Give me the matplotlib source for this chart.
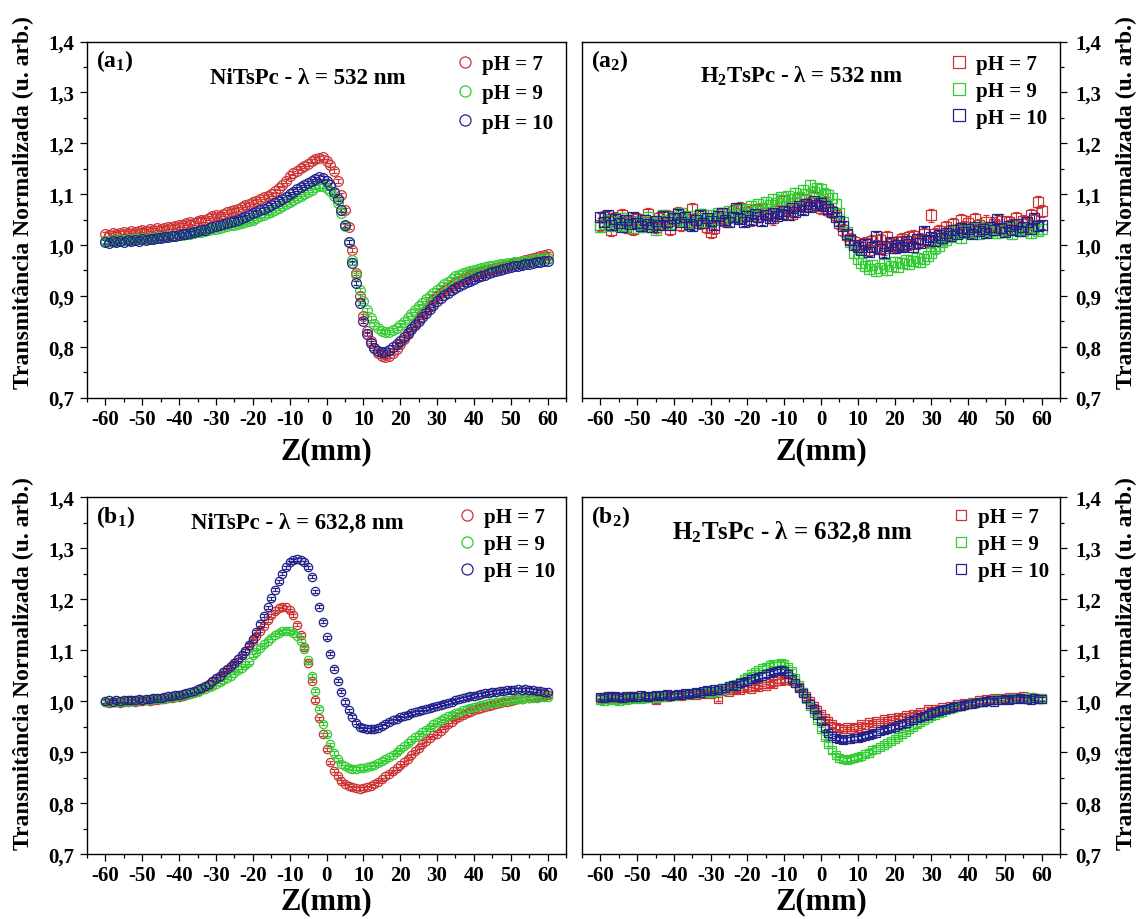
import numpy as np
import matplotlib
matplotlib.use("Agg")
import matplotlib.pyplot as plt
from matplotlib.lines import Line2D
from matplotlib.ticker import MultipleLocator, FuncFormatter

plt.rcParams["font.family"] = ["Liberation Serif", "DejaVu Serif"]
plt.rcParams["font.weight"] = "bold"
plt.rcParams["mathtext.fontset"] = "custom"
plt.rcParams["mathtext.rm"] = "Liberation Serif:bold"
plt.rcParams["mathtext.it"] = "Liberation Serif:bold"
plt.rcParams["mathtext.bf"] = "Liberation Serif:bold"
plt.rcParams["axes.unicode_minus"] = False

# Z positions (mm), 1 mm step
z = np.arange(-60, 61)
ph_labels = ["pH = 7", "pH = 9", "pH = 10"]
colors = ["#cc3333", "#33cc33", "#22228c"]

# (a1) NiTsPc - 532 nm
a1_ph7 = [1.022, 1.020, 1.023, 1.021, 1.024, 1.026, 1.023, 1.027, 1.025, 1.028,
          1.030, 1.027, 1.031, 1.029, 1.033, 1.031, 1.034, 1.036, 1.035, 1.038,
          1.040, 1.039, 1.043, 1.045, 1.044, 1.048, 1.050, 1.049, 1.053, 1.056,
          1.058, 1.057, 1.061, 1.064, 1.066, 1.069, 1.071, 1.075, 1.078, 1.081,
          1.084, 1.087, 1.090, 1.094, 1.097, 1.101, 1.106, 1.112, 1.118, 1.126,
          1.135, 1.141, 1.146, 1.151, 1.156, 1.160, 1.165, 1.168, 1.171, 1.173,
          1.165, 1.158, 1.145, 1.125, 1.098, 1.068, 1.035, 0.990, 0.945, 0.900,
          0.860, 0.830, 0.812, 0.797, 0.787, 0.781, 0.779, 0.782, 0.788, 0.796,
          0.805, 0.815, 0.825, 0.835, 0.845, 0.855, 0.864, 0.873, 0.882, 0.891,
          0.899, 0.905, 0.910, 0.915, 0.920, 0.925, 0.929, 0.933, 0.936, 0.940,
          0.943, 0.945, 0.947, 0.949, 0.951, 0.953, 0.955, 0.957, 0.959, 0.961,
          0.963, 0.965, 0.967, 0.969, 0.971, 0.973, 0.975, 0.977, 0.979, 0.981, 0.982]
a1_ph9 = [1.008, 1.007, 1.009, 1.008, 1.010, 1.009, 1.011, 1.010, 1.012, 1.011,
          1.013, 1.012, 1.014, 1.014, 1.015, 1.016, 1.016, 1.017, 1.018, 1.018,
          1.019, 1.020, 1.021, 1.022, 1.024, 1.025, 1.026, 1.028, 1.029, 1.031,
          1.032, 1.034, 1.035, 1.037, 1.039, 1.040, 1.042, 1.044, 1.046, 1.048,
          1.050, 1.053, 1.056, 1.059, 1.062, 1.065, 1.069, 1.072, 1.076, 1.080,
          1.084, 1.088, 1.092, 1.096, 1.100, 1.104, 1.108, 1.113, 1.116, 1.115,
          1.112, 1.106, 1.096, 1.082, 1.062, 1.038, 1.005, 0.970, 0.940, 0.912,
          0.890, 0.872, 0.857, 0.845, 0.836, 0.830, 0.828, 0.829, 0.832, 0.836,
          0.842, 0.849, 0.857, 0.865, 0.872, 0.879, 0.886, 0.893, 0.900, 0.906,
          0.912, 0.918, 0.923, 0.928, 0.933, 0.938, 0.941, 0.944, 0.946, 0.948,
          0.950, 0.952, 0.954, 0.956, 0.958, 0.959, 0.961, 0.962, 0.963, 0.964,
          0.965, 0.966, 0.967, 0.968, 0.969, 0.970, 0.971, 0.972, 0.973, 0.974, 0.975]
a1_ph10 = [1.006, 1.004, 1.007, 1.005, 1.008, 1.006, 1.009, 1.007, 1.010, 1.008,
           1.011, 1.010, 1.012, 1.011, 1.014, 1.013, 1.015, 1.016, 1.017, 1.018,
           1.019, 1.021, 1.022, 1.024, 1.025, 1.027, 1.029, 1.030, 1.033, 1.035,
           1.037, 1.039, 1.041, 1.043, 1.046, 1.048, 1.050, 1.053, 1.055, 1.058,
           1.062, 1.065, 1.068, 1.071, 1.074, 1.078, 1.082, 1.086, 1.090, 1.095,
           1.100, 1.105, 1.110, 1.114, 1.118, 1.122, 1.126, 1.130, 1.133, 1.132,
           1.125, 1.117, 1.105, 1.090, 1.068, 1.040, 1.005, 0.965, 0.925, 0.885,
           0.850, 0.825, 0.808, 0.797, 0.791, 0.789, 0.790, 0.794, 0.799, 0.805,
           0.811, 0.818, 0.826, 0.834, 0.842, 0.850, 0.858, 0.866, 0.874, 0.882,
           0.889, 0.895, 0.901, 0.906, 0.911, 0.915, 0.919, 0.923, 0.927, 0.930,
           0.933, 0.936, 0.939, 0.941, 0.944, 0.946, 0.948, 0.950, 0.952, 0.954,
           0.956, 0.958, 0.959, 0.961, 0.962, 0.963, 0.965, 0.966, 0.967, 0.968, 0.969]

# (a2) H2TsPc - 532 nm
a2_ph7 = [1.040, 1.055, 1.048, 1.030, 1.052, 1.045, 1.058, 1.036, 1.047, 1.032,
          1.051, 1.038, 1.046, 1.060, 1.042, 1.035, 1.053, 1.044, 1.057, 1.031,
          1.049, 1.062, 1.040, 1.055, 1.046, 1.070, 1.050, 1.043, 1.058, 1.036,
          1.025, 1.033, 1.052, 1.061, 1.047, 1.055, 1.066, 1.060, 1.072, 1.058,
          1.064, 1.050, 1.068, 1.057, 1.071, 1.063, 1.059, 1.052, 1.066, 1.087,
          1.075, 1.069, 1.061, 1.082, 1.091, 1.077, 1.088, 1.083, 1.094, 1.079,
          1.072, 1.085, 1.068, 1.064, 1.058, 1.043, 1.030, 1.020, 1.012, 1.005,
          0.998, 0.995, 1.003, 0.990, 1.008, 0.996, 1.010, 0.993, 1.015, 1.002,
          0.998, 1.006, 1.011, 1.000, 1.015, 1.018, 1.004, 1.012, 1.021, 1.008,
          1.058, 1.022, 1.028, 1.014, 1.035, 1.027, 1.041, 1.030, 1.049, 1.036,
          1.044, 1.028, 1.051, 1.039, 1.033, 1.046, 1.029, 1.042, 1.037, 1.048,
          1.031, 1.045, 1.039, 1.052, 1.036, 1.047, 1.041, 1.058, 1.050, 1.084, 1.066]
a2_ph9 = [1.035, 1.042, 1.050, 1.038, 1.045, 1.040, 1.052, 1.037, 1.044, 1.033,
          1.041, 1.048, 1.036, 1.054, 1.043, 1.030, 1.046, 1.058, 1.049, 1.041,
          1.055, 1.047, 1.062, 1.050, 1.044, 1.057, 1.048, 1.060, 1.053, 1.045,
          1.058, 1.051, 1.063, 1.049, 1.056, 1.067, 1.060, 1.054, 1.069, 1.062,
          1.070, 1.076, 1.066, 1.080, 1.073, 1.085, 1.078, 1.090, 1.083, 1.094,
          1.088, 1.097, 1.091, 1.102, 1.095, 1.108, 1.100, 1.117, 1.105, 1.112,
          1.109, 1.101, 1.098, 1.092, 1.080, 1.062, 1.045, 1.025, 1.005, 0.985,
          0.972, 0.965, 0.958, 0.952, 0.960, 0.948, 0.955, 0.962, 0.950, 0.958,
          0.966, 0.957, 0.964, 0.970, 0.962, 0.968, 0.975, 0.966, 0.972, 0.979,
          0.985, 0.993, 0.998, 1.005, 1.010, 1.016, 1.022, 1.028, 1.014, 1.024,
          1.030, 1.026, 1.033, 1.021, 1.029, 1.035, 1.027, 1.032, 1.024, 1.030,
          1.026, 1.033, 1.022, 1.029, 1.035, 1.027, 1.031, 1.024, 1.036, 1.028, 1.032]
a2_ph10 = [1.055, 1.046, 1.058, 1.040, 1.051, 1.043, 1.036, 1.049, 1.041, 1.054,
           1.044, 1.038, 1.050, 1.042, 1.035, 1.048, 1.040, 1.056, 1.045, 1.039,
           1.052, 1.060, 1.046, 1.055, 1.041, 1.037, 1.049, 1.058, 1.044, 1.052,
           1.047, 1.039, 1.056, 1.062, 1.050, 1.045, 1.055, 1.073, 1.051, 1.046,
           1.057, 1.050, 1.061, 1.054, 1.048, 1.059, 1.052, 1.063, 1.056, 1.060,
           1.067, 1.059, 1.072, 1.064, 1.076, 1.069, 1.081, 1.074, 1.086, 1.079,
           1.083, 1.076, 1.070, 1.064, 1.055, 1.048, 1.038, 1.022, 1.010, 1.000,
           0.995, 0.990, 1.002, 0.987, 0.996, 1.018, 0.992, 0.985, 0.998, 1.005,
           0.993, 1.000, 0.996, 1.007, 1.001, 0.995, 1.012, 1.004, 1.028, 1.009,
           1.015, 1.008, 1.020, 1.013, 1.024, 1.017, 1.030, 1.022, 1.034, 1.026,
           1.031, 1.022, 1.035, 1.027, 1.032, 1.024, 1.036, 1.029, 1.051, 1.033,
           1.026, 1.038, 1.030, 1.042, 1.027, 1.035, 1.046, 1.031, 1.052, 1.037, 1.040]

# (b1) NiTsPc - 632,8 nm
b1_ph7 = [0.998, 0.997, 0.999, 0.998, 0.997, 0.999, 0.998, 1.000, 0.999, 1.000,
          1.000, 1.001, 1.000, 1.002, 1.002, 1.003, 1.004, 1.005, 1.006, 1.007,
          1.008, 1.010, 1.012, 1.014, 1.017, 1.020, 1.023, 1.027, 1.032, 1.037,
          1.043, 1.048, 1.054, 1.060, 1.067, 1.074, 1.082, 1.090, 1.099, 1.108,
          1.118, 1.128, 1.138, 1.148, 1.158, 1.168, 1.176, 1.182, 1.185, 1.184,
          1.178, 1.168, 1.150, 1.130, 1.105, 1.075, 1.040, 1.002, 0.966, 0.935,
          0.905, 0.880, 0.863, 0.852, 0.843, 0.838, 0.834, 0.831, 0.829, 0.828,
          0.829, 0.831, 0.834, 0.838, 0.842, 0.847, 0.852, 0.857, 0.862, 0.868,
          0.874, 0.880, 0.887, 0.894, 0.901, 0.908, 0.915, 0.922, 0.928, 0.933,
          0.936, 0.942, 0.948, 0.954, 0.959, 0.964, 0.968, 0.972, 0.976, 0.979,
          0.982, 0.985, 0.987, 0.989, 0.991, 0.993, 0.995, 0.997, 0.998, 0.999,
          1.000, 1.001, 1.003, 1.004, 1.005, 1.006, 1.007, 1.008, 1.009, 1.010, 1.011]
b1_ph9 = [0.999, 0.998, 1.000, 0.999, 0.998, 1.000, 0.999, 1.001, 1.000, 1.001,
          1.001, 1.002, 1.001, 1.003, 1.003, 1.004, 1.005, 1.006, 1.007, 1.008,
          1.009, 1.011, 1.012, 1.014, 1.016, 1.018, 1.021, 1.024, 1.027, 1.030,
          1.034, 1.038, 1.042, 1.046, 1.050, 1.055, 1.060, 1.065, 1.070, 1.076,
          1.090, 1.097, 1.104, 1.111, 1.118, 1.124, 1.130, 1.134, 1.137, 1.138,
          1.137, 1.134, 1.128, 1.118, 1.102, 1.080, 1.050, 1.020, 0.985, 0.955,
          0.935, 0.915, 0.898, 0.886, 0.877, 0.872, 0.869, 0.867, 0.867, 0.868,
          0.868, 0.870, 0.872, 0.875, 0.878, 0.882, 0.886, 0.890, 0.895, 0.900,
          0.905, 0.911, 0.917, 0.923, 0.929, 0.934, 0.939, 0.944, 0.949, 0.954,
          0.958, 0.962, 0.966, 0.970, 0.973, 0.976, 0.979, 0.982, 0.985, 0.987,
          0.989, 0.991, 0.993, 0.995, 0.996, 0.997, 0.998, 0.999, 1.000, 1.001,
          1.002, 1.003, 1.003, 1.004, 1.005, 1.005, 1.006, 1.006, 1.007, 1.007, 1.008]
b1_ph10 = [1.000, 1.001, 0.999, 1.001, 1.000, 1.002, 1.001, 1.002, 1.001, 1.003,
           1.002, 1.004, 1.003, 1.005, 1.006, 1.006, 1.007, 1.009, 1.010, 1.011,
           1.012, 1.014, 1.016, 1.018, 1.020, 1.023, 1.026, 1.029, 1.033, 1.039,
           1.045, 1.050, 1.056, 1.062, 1.068, 1.075, 1.082, 1.090, 1.099, 1.110,
           1.122, 1.136, 1.151, 1.167, 1.184, 1.201, 1.218, 1.235, 1.250, 1.262,
           1.272, 1.276, 1.278, 1.277, 1.272, 1.262, 1.244, 1.215, 1.185, 1.155,
           1.125, 1.093, 1.063, 1.040, 1.018, 0.998, 0.982, 0.969, 0.957, 0.950,
           0.947, 0.945, 0.945, 0.946, 0.948, 0.951, 0.955, 0.959, 0.962, 0.965,
           0.968, 0.971, 0.973, 0.976, 0.978, 0.980, 0.983, 0.985, 0.987, 0.989,
           0.991, 0.993, 0.995, 0.997, 0.999, 1.001, 1.003, 1.005, 1.007, 1.009,
           1.010, 1.012, 1.013, 1.015, 1.016, 1.017, 1.018, 1.019, 1.020, 1.021,
           1.022, 1.022, 1.023, 1.022, 1.023, 1.022, 1.021, 1.020, 1.019, 1.018, 1.017]

# (b2) H2TsPc - 632,8 nm
b2_ph7 = [1.005, 1.008, 1.006, 1.009, 1.005, 1.007, 1.004, 1.008, 1.006, 1.009,
          1.007, 1.005, 1.008, 1.006, 1.009, 1.001, 1.008, 1.010, 1.007, 1.011,
          1.009, 1.012, 1.010, 1.013, 1.011, 1.014, 1.012, 1.015, 1.013, 1.016,
          1.014, 1.017, 1.004, 1.019, 1.021, 1.018, 1.022, 1.024, 1.021, 1.025,
          1.027, 1.024, 1.030, 1.027, 1.033, 1.030, 1.036, 1.033, 1.039, 1.040,
          1.042, 1.041, 1.039, 1.035, 1.028, 1.018, 1.009, 1.000, 0.991, 0.983,
          0.975, 0.967, 0.960, 0.954, 0.950, 0.948, 0.946, 0.949, 0.945, 0.950,
          0.947, 0.955, 0.950, 0.958, 0.953, 0.961, 0.957, 0.964, 0.960, 0.966,
          0.963, 0.969, 0.966, 0.972, 0.969, 0.975, 0.972, 0.978, 0.975, 0.985,
          0.979, 0.984, 0.982, 0.988, 0.985, 0.991, 0.988, 0.994, 0.991, 0.997,
          0.995, 0.999, 0.997, 1.001, 0.999, 1.003, 1.001, 1.005, 1.003, 1.006,
          1.004, 1.007, 1.005, 1.008, 1.006, 1.009, 1.003, 1.007, 1.005, 1.004, 1.003]
b2_ph9 = [1.001, 1.000, 1.003, 1.001, 1.002, 1.000, 1.003, 1.002, 1.004, 1.003,
          1.005, 1.004, 1.006, 1.005, 1.007, 1.006, 1.008, 1.007, 1.009, 1.010,
          1.009, 1.011, 1.012, 1.011, 1.013, 1.014, 1.015, 1.016, 1.017, 1.018,
          1.016, 1.018, 1.020, 1.022, 1.025, 1.028, 1.031, 1.034, 1.038, 1.043,
          1.048, 1.052, 1.056, 1.060, 1.064, 1.067, 1.070, 1.072, 1.073, 1.074,
          1.073, 1.067, 1.058, 1.046, 1.032, 1.018, 1.004, 0.990, 0.976, 0.962,
          0.945, 0.930, 0.915, 0.903, 0.895, 0.889, 0.886, 0.885, 0.886, 0.888,
          0.890, 0.893, 0.896, 0.899, 0.903, 0.906, 0.909, 0.913, 0.917, 0.921,
          0.925, 0.930, 0.935, 0.940, 0.945, 0.950, 0.954, 0.958, 0.962, 0.966,
          0.970, 0.973, 0.976, 0.979, 0.982, 0.985, 0.987, 0.989, 0.991, 0.993,
          0.995, 0.996, 0.997, 0.998, 0.999, 1.000, 1.001, 1.002, 1.003, 1.003,
          1.004, 1.004, 1.005, 1.005, 1.006, 1.006, 1.006, 1.007, 1.006, 1.005, 1.006]
b2_ph10 = [1.008, 1.006, 1.009, 1.007, 1.010, 1.008, 1.006, 1.009, 1.007, 1.010,
           1.008, 1.011, 1.009, 1.007, 1.010, 1.012, 1.009, 1.011, 1.013, 1.010,
           1.012, 1.014, 1.011, 1.015, 1.013, 1.016, 1.018, 1.015, 1.019, 1.021,
           1.020, 1.023, 1.022, 1.026, 1.025, 1.029, 1.031, 1.030, 1.035, 1.038,
           1.040, 1.043, 1.045, 1.047, 1.050, 1.052, 1.055, 1.057, 1.059, 1.060,
           1.058, 1.052, 1.044, 1.035, 1.025, 1.015, 1.005, 0.995, 0.984, 0.972,
           0.960, 0.948, 0.938, 0.931, 0.927, 0.925, 0.924, 0.925, 0.926, 0.927,
           0.928, 0.930, 0.932, 0.934, 0.936, 0.938, 0.941, 0.943, 0.946, 0.948,
           0.949, 0.952, 0.955, 0.957, 0.960, 0.963, 0.966, 0.968, 0.971, 0.973,
           0.976, 0.978, 0.980, 0.982, 0.984, 0.986, 0.988, 0.990, 0.991, 0.993,
           0.994, 0.995, 0.997, 0.998, 0.999, 1.000, 1.001, 0.999, 1.002, 1.001,
           1.003, 1.002, 1.004, 1.003, 1.005, 1.003, 1.004, 1.002, 1.005, 1.003, 1.004]

# error bar half-widths per panel
err_a1 = [0.004, 0.004, 0.004]
err_a2 = [0.012, 0.010, 0.008]
err_b1 = [0.003, 0.003, 0.003]
err_b2 = [0.004, 0.004, 0.004]

YLABEL = "Transmitância Normalizada (u. arb.)"


def comma_fmt(v, pos):
    return f"{v:.1f}".replace(".", ",")


def draw_panel(ax, series, errs, marker, msize, title, tag, title_pos,
               title_size, right=False, leg_ms=8, leg_space=0.33,
               leg_pad=0.3, zlabel_y=-0.15):
    for vals, err, c in zip(series, errs, colors):
        ax.errorbar(z, vals, yerr=err, fmt=marker, ms=msize, mfc="none",
                    mec=c, mew=0.9, ecolor=c, elinewidth=0.7, capsize=2,
                    capthick=0.7)
    ax.set_xlim(-65, 65)
    ax.set_ylim(0.7, 1.4)
    ax.set_xticks(range(-60, 61, 10))
    ax.xaxis.set_minor_locator(MultipleLocator(5))
    ax.yaxis.set_major_locator(MultipleLocator(0.1))
    ax.yaxis.set_minor_locator(MultipleLocator(0.05))
    ax.yaxis.set_major_formatter(FuncFormatter(comma_fmt))
    ax.tick_params(which="both", direction="out", width=0.9, labelsize=15,
                   top=False)
    ax.tick_params(which="major", length=5)
    ax.tick_params(which="minor", length=3)
    ax.tick_params(axis="x", pad=3)
    if right:
        ax.yaxis.tick_right()
        ax.tick_params(axis="y", which="both", left=False, right=True, pad=6)
    else:
        ax.tick_params(axis="y", which="both", right=False, pad=4)
    for sp in ax.spines.values():
        sp.set_linewidth(1.0)

    ax.text(0.5, zlabel_y, "Z(mm)", transform=ax.transAxes, ha="center",
            va="center", fontsize=22)
    ax.text(0.018, 0.948, tag, transform=ax.transAxes, ha="left",
            va="center", fontsize=17)
    ax.text(title_pos[0], title_pos[1], title, transform=ax.transAxes,
            ha="center", va="center", fontsize=title_size)

    handles = [Line2D([], [], ls="none", marker=marker, ms=leg_ms, mfc="none",
                      mec=c, mew=0.9) for c in colors]
    ax.legend(handles, ph_labels, loc="upper right", frameon=False,
              fontsize=15, handlelength=1.0, handletextpad=0.35,
              labelspacing=leg_space, borderaxespad=leg_pad, borderpad=0.2)


fig = plt.figure(figsize=(11.37, 9.2), dpi=100)
W, H = 1137.0, 920.0
ax_a1 = fig.add_axes([87 / W, 1 - 398.5 / H, 479 / W, 356 / H])
ax_a2 = fig.add_axes([582 / W, 1 - 398.5 / H, 478 / W, 356 / H])
ax_b1 = fig.add_axes([87 / W, 1 - 855 / H, 479 / W, 357 / H])
ax_b2 = fig.add_axes([582 / W, 1 - 855 / H, 478 / W, 357 / H])

draw_panel(ax_a1, [a1_ph7, a1_ph9, a1_ph10], err_a1, "o", 7,
           "NiTsPc - λ = 532 nm", "(a$_1$)", (0.46, 0.90), 16.5,
           leg_space=0.45, leg_pad=0.4)
draw_panel(ax_a2, [a2_ph7, a2_ph9, a2_ph10], err_a2, "s", 7.5,
           "H$_2$TsPc - λ = 532 nm", "(a$_2$)", (0.46, 0.905), 16.5,
           right=True, leg_ms=9, leg_space=0.33, leg_pad=0.4)
draw_panel(ax_b1, [b1_ph7, b1_ph9, b1_ph10], err_b1, "o", 6,
           "NiTsPc - λ = 632,8 nm", "(b$_1$)", (0.44, 0.93), 16.5,
           leg_space=0.33, leg_pad=0.3, zlabel_y=-0.13)
draw_panel(ax_b2, [b2_ph7, b2_ph9, b2_ph10], err_b2, "s", 6,
           "H$_2$TsPc - λ = 632,8 nm", "(b$_2$)", (0.44, 0.905), 18,
           right=True, leg_ms=7, leg_space=0.33, leg_pad=0.3,
           zlabel_y=-0.13)

# y labels (left column reads on the left, right column on the right)
for yc in (203, 664):
    fig.text(23 / W, 1 - yc / H, YLABEL, rotation=90, ha="center",
             va="center", fontsize=17)
    fig.text(1126 / W, 1 - yc / H, YLABEL, rotation=90, ha="center",
             va="center", fontsize=17)

fig.savefig("out.png", dpi=100, facecolor="white")
